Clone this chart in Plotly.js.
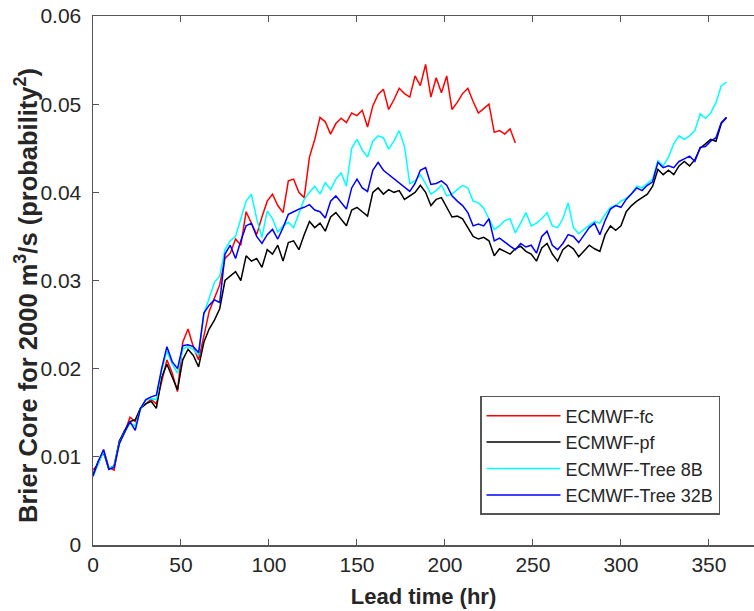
<!DOCTYPE html>
<html>
<head>
<meta charset="utf-8">
<script src="https://cdn.plot.ly/plotly-3.0.1.min.js"></script>
<style>
  html, body { margin: 0; padding: 0; background: #fff; overflow: hidden; }
  #chart { width: 754px; height: 611px; }
</style>
</head>
<body>
<div id="chart"></div>
<script>
// Lead time (hr)
const hours = [
  0, 3, 6, 9, 12, 15, 18, 21, 24, 27,
  30, 33, 36, 39, 42, 45, 48, 51, 54, 57,
  60, 63, 66, 69, 72, 75, 78, 81, 84, 87,
  90, 93, 96, 99, 102, 105, 108, 111, 114, 117,
  120, 123, 126, 129, 132, 135, 138, 141, 144, 147,
  150, 153, 156, 159, 162, 165, 168, 171, 174, 177,
  180, 183, 186, 189, 192, 195, 198, 201, 204, 207,
  210, 213, 216, 219, 222, 225, 228, 231, 234, 237,
  240, 243, 246, 249, 252, 255, 258, 261, 264, 267,
  270, 273, 276, 279, 282, 285, 288, 291, 294, 297,
  300, 303, 306, 309, 312, 315, 318, 321, 324, 327,
  330, 333, 336, 339, 342, 345, 348, 351, 354, 357,
  360
];
const hoursFc = hours.slice(0, 81);

const seriesNames = ['ECMWF-fc', 'ECMWF-pf', 'ECMWF-Tree 8B', 'ECMWF-Tree 32B'];

const fc = [
  0.0085,0.0092,0.0108,0.0088,0.0085,0.0118,0.0128,0.0145,0.0140,0.0155,
  0.0160,0.0165,0.0160,0.0185,0.0210,0.0195,0.0174,0.0230,0.0245,0.0225,
  0.0210,0.0237,0.0265,0.0280,0.0295,0.0325,0.0331,0.0347,0.0340,0.0378,
  0.0365,0.0352,0.0372,0.0390,0.0398,0.0385,0.0377,0.0413,0.0415,0.0400,
  0.0394,0.0440,0.0460,0.0485,0.0480,0.0466,0.0478,0.0484,0.0479,0.0490,
  0.0487,0.0493,0.0474,0.0498,0.0511,0.0517,0.0494,0.0505,0.0518,0.0512,
  0.0508,0.0532,0.0521,0.0545,0.0508,0.0530,0.0513,0.0532,0.0494,0.0502,
  0.0512,0.0518,0.0503,0.0490,0.0495,0.0500,0.0468,0.0470,0.0466,0.0472,
  0.0456
];

const pf = [
  0.0080,0.0095,0.0105,0.0086,0.0090,0.0118,0.0130,0.0140,0.0142,0.0155,
  0.0160,0.0163,0.0155,0.0190,0.0205,0.0190,0.0176,0.0210,0.0222,0.0215,
  0.0202,0.0230,0.0245,0.0255,0.0268,0.0300,0.0305,0.0310,0.0300,0.0328,
  0.0322,0.0325,0.0315,0.0335,0.0330,0.0340,0.0322,0.0343,0.0345,0.0335,
  0.0352,0.0367,0.0360,0.0365,0.0356,0.0372,0.0377,0.0370,0.0362,0.0380,
  0.0383,0.0378,0.0373,0.0400,0.0405,0.0398,0.0403,0.0400,0.0402,0.0392,
  0.0396,0.0400,0.0408,0.0400,0.0385,0.0392,0.0394,0.0383,0.0372,0.0373,
  0.0370,0.0360,0.0350,0.0347,0.0349,0.0345,0.0328,0.0336,0.0333,0.0330,
  0.0336,0.0339,0.0333,0.0330,0.0322,0.0337,0.0342,0.0330,0.0322,0.0335,
  0.0340,0.0336,0.0327,0.0333,0.0340,0.0336,0.0333,0.0352,0.0362,0.0357,
  0.0362,0.0378,0.0385,0.0390,0.0394,0.0398,0.0407,0.0426,0.0420,0.0425,
  0.0420,0.0430,0.0435,0.0430,0.0437,0.0450,0.0455,0.0460,0.0458,0.0478,
  0.0485
];

const tree8 = [
  0.0078,0.0093,0.0106,0.0087,0.0089,0.0116,0.0128,0.0138,0.0135,0.0154,
  0.0164,0.0166,0.0165,0.0198,0.0220,0.0205,0.0195,0.0222,0.0225,0.0222,
  0.0215,0.0262,0.0280,0.0298,0.0305,0.0335,0.0345,0.0350,0.0370,0.0390,
  0.0398,0.0370,0.0349,0.0379,0.0370,0.0355,0.0362,0.0366,0.0360,0.0375,
  0.0392,0.0400,0.0407,0.0398,0.0411,0.0403,0.0415,0.0422,0.0407,0.0450,
  0.0460,0.0448,0.0440,0.0458,0.0464,0.0462,0.0449,0.0458,0.0470,0.0452,
  0.0410,0.0413,0.0420,0.0410,0.0398,0.0402,0.0408,0.0396,0.0398,0.0403,
  0.0408,0.0405,0.0390,0.0388,0.0382,0.0370,0.0358,0.0362,0.0368,0.0370,
  0.0354,0.0365,0.0377,0.0362,0.0365,0.0370,0.0377,0.0362,0.0360,0.0370,
  0.0388,0.0360,0.0353,0.0358,0.0362,0.0367,0.0365,0.0375,0.0383,0.0385,
  0.0390,0.0393,0.0398,0.0407,0.0405,0.0410,0.0415,0.0436,0.0430,0.0440,
  0.0455,0.0464,0.0460,0.0464,0.0470,0.0489,0.0484,0.0490,0.0502,0.0521,
  0.0525
];

const tree32 = [
  0.0078,0.0095,0.0108,0.0086,0.0088,0.0115,0.0128,0.0140,0.0130,0.0155,
  0.0165,0.0168,0.0170,0.0200,0.0225,0.0208,0.0200,0.0226,0.0227,0.0225,
  0.0218,0.0263,0.0272,0.0278,0.0275,0.0330,0.0340,0.0325,0.0345,0.0362,
  0.0365,0.0350,0.0342,0.0352,0.0358,0.0347,0.0360,0.0375,0.0378,0.0381,
  0.0383,0.0386,0.0380,0.0378,0.0371,0.0390,0.0396,0.0388,0.0381,0.0405,
  0.0415,0.0405,0.0401,0.0425,0.0434,0.0425,0.0420,0.0415,0.0411,0.0405,
  0.0401,0.0410,0.0425,0.0428,0.0409,0.0410,0.0413,0.0408,0.0396,0.0390,
  0.0385,0.0377,0.0362,0.0364,0.0362,0.0370,0.0345,0.0348,0.0343,0.0339,
  0.0335,0.0342,0.0338,0.0340,0.0331,0.0350,0.0356,0.0340,0.0335,0.0342,
  0.0352,0.0350,0.0343,0.0352,0.0360,0.0365,0.0352,0.0368,0.0381,0.0385,
  0.0383,0.0392,0.0398,0.0405,0.0402,0.0408,0.0412,0.0434,0.0428,0.0430,
  0.0428,0.0435,0.0438,0.0441,0.0435,0.0451,0.0452,0.0458,0.0462,0.0479,
  0.0485
];

const xTickVals = [0, 50, 100, 150, 200, 250, 300, 350];
const xTickText = ['0', '50', '100', '150', '200', '250', '300', '350'];
const yTickVals = [0, 0.01, 0.02, 0.03, 0.04, 0.05, 0.06];
const yTickText = ['0', '0.01', '0.02', '0.03', '0.04', '0.05', '0.06'];
const xTitle = '<b>Lead time (hr)</b>';
const yTitle = '<b>Brier Core for 2000 m<sup>3</sup>/s (probability<sup>2</sup>)</b>';

const colors = ['#ff0000', '#000000', '#00ffff', '#0000ff'];
const xs = [hoursFc, hours, hours, hours];
const ys = [fc, pf, tree8, tree32];

const traces = ys.map((y, i) => ({
  type: 'scatter',
  mode: 'lines',
  name: seriesNames[i],
  x: xs[i],
  y: y,
  line: { color: colors[i], width: 1.5 }
}));

const FONT = 'Liberation Sans, Arial, sans-serif';
const axisColor = '#555555';
const textColor = '#262626';

const layout = {
  width: 754,
  height: 611,
  margin: { l: 93, r: 0, t: 16, b: 66 },
  paper_bgcolor: '#ffffff',
  plot_bgcolor: '#ffffff',
  font: { family: FONT, size: 20, color: textColor },
  showlegend: true,
  xaxis: {
    range: [0, 375.6],
    tickvals: xTickVals,
    ticktext: xTickText,
    ticks: 'inside',
    ticklen: 6,
    tickcolor: axisColor,
    showline: true,
    linecolor: axisColor,
    linewidth: 1.5,
    mirror: 'ticks',
    showgrid: false,
    zeroline: false,
    tickfont: { family: FONT, size: 21, color: textColor },
    title: { text: xTitle, font: { family: FONT, size: 22, color: textColor }, standoff: 14 }
  },
  yaxis: {
    range: [0, 0.06],
    tickvals: yTickVals,
    ticktext: yTickText,
    ticks: 'inside',
    ticklen: 6,
    tickcolor: axisColor,
    showline: true,
    linecolor: axisColor,
    linewidth: 1.5,
    mirror: false,
    showgrid: false,
    zeroline: false,
    ticklabelstandoff: 6,
    tickfont: { family: FONT, size: 21, color: textColor }
  },
  annotations: [{
    text: yTitle,
    xref: 'paper', yref: 'paper',
    x: 0, y: 0.4707,
    xanchor: 'center', yanchor: 'middle',
    xshift: -67,
    textangle: -90,
    showarrow: false,
    font: { family: FONT, size: 25.5, color: textColor }
  }],
  legend: {
    x: 0.5855,
    y: 0.2817,
    xanchor: 'left',
    yanchor: 'top',
    bgcolor: '#ffffff',
    bordercolor: '#555555',
    borderwidth: 1.5,
    itemwidth: 74,
    font: { family: FONT, size: 18, color: textColor },
    tracegroupgap: 0
  }
};

Plotly.newPlot('chart', traces, layout, { displayModeBar: false, staticPlot: true });
</script>
</body>
</html>
